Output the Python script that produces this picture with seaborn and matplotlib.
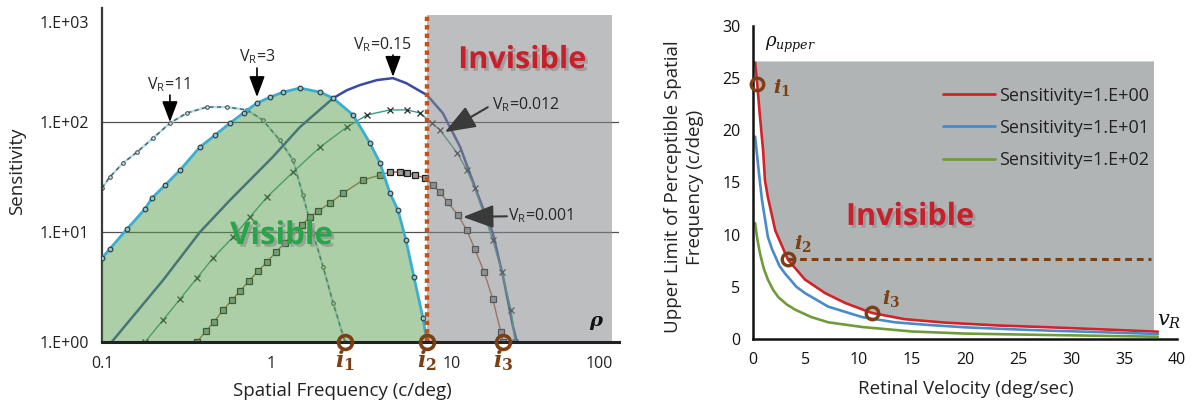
import numpy as np
import pandas as pd
import matplotlib
matplotlib.use("Agg")
import matplotlib.pyplot as plt
import matplotlib.patheffects as pe
from matplotlib.patches import Rectangle
from matplotlib.ticker import NullLocator
from matplotlib.transforms import ScaledTranslation
import seaborn as sns

# ---------------- data: left panel (contrast sensitivity curves) ----------------
x_vr11 = [0.1, 0.111, 0.133, 0.161, 0.2, 0.251, 0.316, 0.415, 0.544, 0.713, 0.885, 1.11, 1.33, 1.52, 1.74, 2.0, 2.29, 2.69]
y_vr11 = [25.1, 31.6, 42.4, 53.4, 71.6, 97.9, 121, 137, 137, 129, 104, 68.6, 45.1, 21.7, 9.8, 4.81, 2.26, 1.0]

x_vr3 = [0.1, 0.111, 0.14, 0.179, 0.197, 0.235, 0.288, 0.377, 0.462, 0.566, 0.68, 0.816, 0.98, 1.16, 1.46, 1.92, 2.29, 3.0, 3.77, 4.32, 4.94, 5.51, 6.14, 6.84, 7.73, 8.16]
y_vr3 = [5.8, 7.0, 10.6, 16.2, 20.4, 26.7, 36.6, 59.3, 76, 97.9, 121, 149, 169, 187, 204, 187, 165, 116, 64.4, 42.4, 22.6, 15.8, 8.46, 3.9, 1.65, 1.0]

x_vr015 = [0.114, 0.229, 0.377, 0.566, 1.01, 1.46, 2.29, 2.76, 3.29, 4.15, 5.15, 6.16, 8.16, 10.1, 12.8, 16.1, 19.9, 22.9, 26.2, 27.6]
y_vr015 = [1.0, 3.66, 10, 19.5, 48.1, 90.1, 165, 195, 217, 241, 251, 226, 176, 121, 59.3, 22.6, 9.8, 3.9, 1.37, 1.0]

x_vr0012 = [0.179, 0.229, 0.288, 0.362, 0.45, 0.59, 0.742, 0.935, 1.33, 1.92, 2.76, 3.62, 4.94, 6.22, 7.43, 8.73, 9.73, 12.3, 14.0, 15.6, 19.9, 22.5, 25.5, 26.9]
y_vr0012 = [1.0, 1.59, 2.46, 3.82, 5.8, 9.0, 13.7, 20.8, 35.1, 59.3, 90.1, 116, 129, 129, 121, 97.9, 84.6, 52.3, 36.6, 25.1, 8.46, 4.33, 1.95, 1.0]

x_vr0001 = [0.362, 0.409, 0.456, 0.515, 0.582, 0.648, 0.732, 0.827, 0.935, 1.056, 1.19, 1.5, 1.67, 1.87, 2.19, 2.62, 3.43, 4.32, 4.94, 5.66, 6.22, 6.94, 7.94, 8.85, 9.73, 10.8, 12.4, 14.0, 15.6, 17.7, 19.9, 22.2, 22.85]
y_vr0001 = [1.0, 1.26, 1.52, 1.95, 2.41, 2.91, 3.59, 4.42, 5.34, 6.58, 7.94, 11.6, 13.7, 15.5, 18.3, 22.6, 29.7, 33.0, 35.1, 35.1, 34.4, 33.0, 31.0, 26.7, 23.1, 18.7, 14.3, 10.4, 7.0, 4.33, 2.46, 1.23, 1.0]

left_yticks = [1, 10, 100, 1000]
left_yticklabels = ["1.E+00", "1.E+01", "1.E+02", "1.E+03"]
left_xticks = [0.1, 1, 10, 100]
left_xticklabels = ["0.1", "1", "10", "100"]
left_grid_y = [10, 100]
cutoff_x = [2.69, 8.2, 22.85]          # i1, i2, i3 on the frequency axis
cutoff_labels = ["$i_1$", "$i_2$", "$i_3$"]
gray_left_top = 940

# ---------------- data: right panel (upper limit of perceptible frequency) ----------------
red_v = [0.2, 0.4, 0.66, 0.95, 1.13, 1.4, 1.6, 2.1, 3.3, 4.9, 6.8, 8.7, 11.2, 14.3, 18.1, 23, 28, 33, 38.2]
red_rho = [26.5, 24.4, 21.3, 18.1, 15.2, 13.6, 12.7, 10.4, 7.6, 5.7, 4.4, 3.45, 2.5, 1.9, 1.57, 1.3, 1.12, 0.92, 0.7]
blue_v = [0.2, 0.55, 0.85, 1.4, 1.8, 2.5, 3.0, 4.1, 4.9, 7.1, 10.3, 13.4, 16.5, 20, 24, 28, 33, 38.2]
blue_rho = [19.4, 16.0, 13.3, 9.8, 8.6, 7.0, 6.3, 5.0, 4.4, 3.1, 2.1, 1.6, 1.35, 1.12, 0.95, 0.8, 0.65, 0.48]
green_v = [0.2, 0.4, 0.66, 1.0, 1.4, 1.9, 2.4, 3.2, 4.0, 5.5, 7.1, 10.3, 15, 20, 28, 38.2]
green_rho = [11.1, 9.6, 8.2, 6.8, 5.7, 4.7, 4.0, 3.3, 2.8, 2.1, 1.6, 1.15, 0.72, 0.52, 0.38, 0.22]
series_labels = ["Sensitivity=1.E+00", "Sensitivity=1.E+01", "Sensitivity=1.E+02"]
series_colors = ["#d2232a", "#4a8ac9", "#6f9b3a"]
i_right_v = [0.4, 3.3, 11.2]
i_right_rho = [24.4, 7.7, 2.5]
rho_upper = 26.65
v_max_gray = 37.7
dashed_end_v = 37.5

# ---------------- style ----------------
sns.set_style("white")
plt.rcParams["font.family"] = ["Open Sans", "DejaVu Sans"]
plt.rcParams["mathtext.fontset"] = "custom"
plt.rcParams["mathtext.it"] = "DejaVu Serif:italic:bold"
plt.rcParams["mathtext.rm"] = "DejaVu Serif:bold"
plt.rcParams["mathtext.bf"] = "DejaVu Serif:bold"

W, H = 1197, 403
fig = plt.figure(figsize=(W / 100, H / 100), dpi=100)
axL = fig.add_axes([102 / W, 1 - 342 / H, 517 / W, 334 / H])
axR = fig.add_axes([753 / W, 1 - 339 / H, 424 / W, 313 / H])

BROWN = "#7b3f12"
TXT = "#222222"

# ================= LEFT =================
axL.set_xscale("log")
axL.set_yscale("log")

for gy in left_grid_y:
    axL.axhline(gy, color="#505050", lw=0.9, zorder=1.5)

common = dict(ax=axL, sort=False, estimator=None, zorder=2)
sns.lineplot(x=x_vr11, y=y_vr11, color="#b3dfec", lw=1.8, **common)
sns.lineplot(x=x_vr11, y=y_vr11, color="#4d5a5e", lw=1.0, linestyle=(0, (3, 2.5)),
             marker="o", markersize=2.6, markerfacecolor="#c8e6ee", markeredgecolor="#444444",
             markeredgewidth=0.7, **common)
sns.lineplot(x=x_vr015, y=y_vr015, color="#3a4aa0", lw=1.8, **common)
sns.lineplot(x=x_vr0012, y=y_vr0012, color="#3a9a8a", lw=1.0, marker="x", markersize=4,
             markeredgecolor="#2a2a2a", markeredgewidth=0.9, **common)
sns.lineplot(x=x_vr0001, y=y_vr0001, color="#b0603a", lw=1.0, marker="s", markersize=3.8,
             markerfacecolor="#9a9a9a", markeredgecolor="#1e1e1e", markeredgewidth=0.9, **common)

# visible region under V_R=3
axL.fill_between(x_vr3, y_vr3, 1, color="#5aa050", alpha=0.5, lw=0, zorder=3)
# invisible region beyond i2
axL.fill_between([cutoff_x[1], 100], 1, gray_left_top, color="#85898c", alpha=0.55, lw=0, zorder=3)

sns.lineplot(x=x_vr3, y=y_vr3, ax=axL, sort=False, estimator=None, color="#3aaed2", lw=2.0,
             marker="o", markersize=3.4, markerfacecolor="#8fc7c9", markeredgecolor="#2a3a40",
             markeredgewidth=0.8, zorder=4)

axL.vlines(cutoff_x[1], 1, gray_left_top, colors="#c0531c", lw=3.2, linestyles=(0, (1.0, 0.9)), zorder=5)

axL.set_xlim(0.1, 110)
axL.set_ylim(1, 1090)
axL.set_yticks(left_yticks)
axL.set_yticklabels(left_yticklabels)
axL.set_xticks(left_xticks)
axL.set_xticklabels(left_xticklabels)
axL.xaxis.set_minor_locator(NullLocator())
axL.yaxis.set_minor_locator(NullLocator())
axL.tick_params(axis="both", which="both", length=0, labelsize=11.5, colors=TXT)
axL.tick_params(axis="y", pad=9)
axL.tick_params(axis="x", pad=10)
# small offsets of individual tick labels as in the reference
for lab, dx in zip(axL.get_xticklabels(), [0, -1, 10, -13]):
    lab.set_transform(lab.get_transform() + ScaledTranslation(dx / 100, 0, fig.dpi_scale_trans))
for lab, dy in zip(axL.get_yticklabels(), [0, 0, 0, -10]):
    lab.set_transform(lab.get_transform() + ScaledTranslation(0, dy / 100, fig.dpi_scale_trans))

for s in ["top", "right"]:
    axL.spines[s].set_visible(False)
axL.spines["left"].set_color("#3a3a3a")
axL.spines["left"].set_linewidth(1.6)
axL.spines["bottom"].set_color("#222222")
axL.spines["bottom"].set_linewidth(2.2)
axL.spines["bottom"].set_zorder(6)

axL.set_xlabel("Spatial Frequency (c/deg)", fontsize=13.5, color=TXT, va="center")
axL.set_ylabel("Sensitivity", fontsize=13.5, color=TXT, va="center")
axL.xaxis.set_label_coords(0.464, -0.147)
axL.yaxis.set_label_coords(-0.164, 0.51)

# cut-off points
axL.plot(cutoff_x, [1] * 3, "o", ms=10, mfc="none", mec=BROWN, mew=2.6, clip_on=False, zorder=7)
tr = axL.get_xaxis_transform()
for xv, lab in zip(cutoff_x, cutoff_labels):
    axL.text(xv, -0.055, lab, transform=tr, ha="center", va="center", fontsize=16, color=BROWN)

shadow = [pe.withSimplePatchShadow(offset=(2, -2), shadow_rgbFace="#8a8a8a", alpha=0.6)]
axL.text(29.6, 366, "Invisible", fontsize=22, fontweight="bold", color="#c8202a",
         ha="center", va="center", zorder=8, path_effects=shadow)
axL.text(1.14, 9.2, "Visible", fontsize=22.5, fontweight="bold", color="#28a44a",
         ha="center", va="center", zorder=8, path_effects=shadow)
axL.text(81.6, 1.49, r"$\rho$", fontsize=14, color="#111111", ha="center", va="center", zorder=8)

# V_R annotations
small = dict(arrowstyle="-|>,head_length=0.85,head_width=0.32", mutation_scale=15,
             color="black", lw=1.2, shrinkA=0, shrinkB=0)
big = dict(arrowstyle="-|>,head_length=0.95,head_width=0.36", mutation_scale=20,
           color="#3a3a3a", lw=1.5, shrinkA=0, shrinkB=0)
vr_fs = 11.5
axL.text(0.2445, 217, r"V$_\mathregular{R}$=11", fontsize=vr_fs, ha="center", va="center", zorder=8)
axL.annotate("", xy=(0.251, 100), xytext=(0.251, 176), arrowprops=small, zorder=8)
axL.text(0.816, 390, r"V$_\mathregular{R}$=3", fontsize=vr_fs, ha="center", va="center", zorder=8)
axL.annotate("", xy=(0.816, 169), xytext=(0.816, 310), arrowprops=small, zorder=8)
axL.text(4.44, 501, r"V$_\mathregular{R}$=0.15", fontsize=vr_fs, ha="center", va="center", zorder=8)
axL.annotate("", xy=(5.15, 258), xytext=(5.15, 407), arrowprops=small, zorder=8)
axL.text(19.7, 143, r"V$_\mathregular{R}$=0.012", fontsize=vr_fs, ha="left", va="center", zorder=8)
axL.annotate("", xy=(10.4, 81), xytext=(18.6, 136.5), arrowprops=big, zorder=8)
axL.text(24.4, 14.0, r"V$_\mathregular{R}$=0.001", fontsize=vr_fs, ha="left", va="center", zorder=8)
axL.annotate("", xy=(13.3, 13.7), xytext=(24.1, 13.9), arrowprops=big, zorder=8)

# ================= RIGHT =================
gray = axR.fill_between(red_v, red_rho, rho_upper, color="#b1b4b5", lw=0, zorder=0)
gray.set_clip_path(Rectangle((0, 0), v_max_gray, rho_upper, transform=axR.transData))

for vv, rr, lab, col in zip([red_v, blue_v, green_v], [red_rho, blue_rho, green_rho],
                            series_labels, series_colors):
    sns.lineplot(x=vv, y=rr, ax=axR, sort=False, estimator=None, color=col, lw=1.9,
                 label=lab, zorder=2)

axR.plot([i_right_v[1], dashed_end_v], [i_right_rho[1]] * 2, color=BROWN, lw=2.2,
         linestyle=(0, (2.2, 1.6)), zorder=3)
axR.plot(i_right_v, i_right_rho, "o", ms=9, mfc="none", mec=BROWN, mew=2.4, clip_on=False, zorder=5)

axR.text(2.7, 24.1, "$i_1$", fontsize=14, color=BROWN, ha="center", va="center")
axR.text(4.7, 9.2, "$i_2$", fontsize=14, color=BROWN, ha="center", va="center")
axR.text(13.0, 3.9, "$i_3$", fontsize=14, color=BROWN, ha="center", va="center")
axR.text(3.5, 28.2, r"$\rho_{upper}$", fontsize=13, math_fontfamily="dejavuserif",
         color="#111111", ha="center", va="center")
axR.text(39.3, 1.8, r"$v_R$", fontsize=15, math_fontfamily="dejavuserif",
         color="#111111", ha="center", va="center")
axR.text(14.8, 11.7, "Invisible", fontsize=22, fontweight="bold", color="#c8202a",
         ha="center", va="center", zorder=6, path_effects=shadow)

axR.set_xlim(0, 40)
axR.set_ylim(0, 30)
axR.set_xticks(np.arange(0, 41, 5))
axR.set_yticks(np.arange(0, 31, 5))
axR.tick_params(direction="out", length=6, width=1.5, labelsize=11.5, pad=3, colors="#111111")
for s in ["top", "right"]:
    axR.spines[s].set_visible(False)
for s in ["left", "bottom"]:
    axR.spines[s].set_color("#111111")
    axR.spines[s].set_linewidth(1.8)
axR.set_xlabel("Retinal Velocity (deg/sec)", fontsize=13.5, color=TXT, va="center")
axR.set_ylabel("Upper Limit of Perceptible Spatial\nFrequency (c/deg)", fontsize=13.5,
               color=TXT, linespacing=1.25, va="center")
axR.xaxis.set_label_coords(0.502, -0.16)
axR.yaxis.set_label_coords(-0.163, 0.486)

handles, labels = axR.get_legend_handles_labels()
leg = axR.legend(handles, labels, loc="upper left", bbox_to_anchor=(0.448, 0.806), frameon=False,
                 fontsize=13, handlelength=2.9, handletextpad=0.2, labelspacing=0.78,
                 borderpad=0, borderaxespad=0)
for t in leg.get_texts():
    t.set_color(TXT)
for h in leg.get_lines():
    h.set_linewidth(2.0)

fig.savefig("out.png", dpi=100)
